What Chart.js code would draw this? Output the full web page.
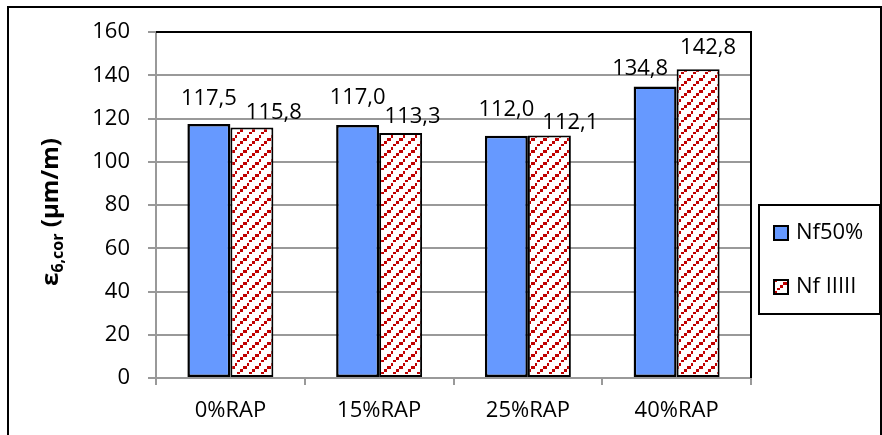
<!DOCTYPE html>
<html>
<head>
<meta charset="utf-8">
<script src="https://cdn.jsdelivr.net/npm/chart.js@4.4.1/dist/chart.umd.min.js"></script>
<style>
  body { margin: 0; background: #fff; }
  #wrap { width: 882px; height: 435px; }
</style>
</head>
<body>
<div id="wrap"><canvas id="rapChart" width="882" height="435"></canvas></div>
<script>
// data
const categories = ['0%RAP', '15%RAP', '25%RAP', '40%RAP']
const nf50Values = [117.5, 117.0, 112.0, 134.8]
const nfIIIIIValues = [115.8, 113.3, 112.1, 142.8]
const seriesNames = ['Nf50%', 'Nf IIIII']
const yTicks = [0, 20, 40, 60, 80, 100, 120, 140, 160]

const FONT = "'Open Sans', 'Noto Sans', sans-serif"

// red dashed diagonal hatch like the excel pattern fill
function makeHatch() {
    let c = document.createElement('canvas')
    c.width = 12; c.height = 12
    let g = c.getContext('2d')
    g.fillStyle = '#ffffff'
    g.fillRect(0, 0, 12, 12)
    g.fillStyle = '#c00000'
    // staircase going up to the right, with a small gap once per tile
    g.fillRect(0, 9, 3, 3)
    g.fillRect(3, 6, 4, 3)
    g.fillRect(7, 3, 2, 3)
    g.fillRect(9, 0, 3, 2)
    return g.createPattern(c, 'repeat')
}
const hatch = makeHatch()

// label nudges (excel labels were dragged a bit by hand)
const labelShift = [
    [[0, 25], [0, 27], [0, 26], [-15, 18]],
    [[22, 15], [12, 16], [21, 13], [10, 21]]
]

function fmt(v) {
    return v.toFixed(1).replace('.', ',')
}

const decorPlugin = {
    id: 'decor',
    beforeDraw(chart) {
        let ctx = chart.ctx
        ctx.save()
        ctx.fillStyle = '#fff'
        ctx.fillRect(0, 0, chart.width, chart.height)
        ctx.restore()
    },
    afterDraw(chart) {
        let ctx = chart.ctx
        let a = chart.chartArea
        ctx.save()
        // black frame on top and right of plot
        ctx.strokeStyle = '#000'
        ctx.lineWidth = 2
        ctx.beginPath()
        ctx.moveTo(a.left, a.top)
        ctx.lineTo(a.right, a.top)
        ctx.lineTo(a.right, a.bottom)
        ctx.stroke()

        // outer chart border
        ctx.lineWidth = 2
        ctx.strokeRect(8, 7, 873, 440)

        // data labels
        ctx.fillStyle = '#000'
        ctx.font = '22px ' + FONT
        ctx.textAlign = 'center'
        ctx.textBaseline = 'middle'
        chart.data.datasets.forEach(function (ds, di) {
            let meta = chart.getDatasetMeta(di)
            meta.data.forEach(function (bar, i) {
                let s = labelShift[di][i]
                ctx.fillText(fmt(ds.data[i]), bar.x + s[0], bar.y - s[1])
            })
        })

        // y axis title with subscript
        ctx.translate(50, 212)
        ctx.rotate(-Math.PI / 2)
        let big = 'bold 24px ' + FONT
        let small = 'bold 16px ' + FONT
        let p1 = 'ε', p2 = '6,cor', p3 = ' (µm/m)'
        ctx.font = big
        let w1 = ctx.measureText(p1).width
        let w3 = ctx.measureText(p3).width
        ctx.font = small
        let w2 = ctx.measureText(p2).width
        let x = -(w1 + w2 + w3) / 2
        ctx.textAlign = 'left'
        ctx.textBaseline = 'alphabetic'
        ctx.font = big
        ctx.fillText(p1, x, 8)
        ctx.font = small
        ctx.fillText(p2, x + w1, 13)
        ctx.font = big
        ctx.fillText(p3, x + w1 + w2, 8)
        ctx.setTransform(1, 0, 0, 1, 0, 0)

        // legend
        ctx.strokeStyle = '#000'
        ctx.lineWidth = 2
        ctx.strokeRect(759, 205, 121, 109)
        let rows = [233, 287]
        chart.data.datasets.forEach(function (ds, di) {
            let y = rows[di]
            ctx.fillStyle = ds.backgroundColor
            ctx.fillRect(774, y - 7, 14, 14)
            ctx.lineWidth = 2
            ctx.strokeRect(774, y - 7, 14, 14)
            ctx.fillStyle = '#000'
            ctx.font = '22px ' + FONT
            ctx.textAlign = 'left'
            ctx.textBaseline = 'middle'
            ctx.fillText(ds.label, 796, y)
        })
        ctx.restore()
    }
}

var rapChart = new Chart(document.getElementById('rapChart'), {
    type: 'bar',
    data: {
        labels: categories,
        datasets: [{
            label: seriesNames[0],
            data: nf50Values,
            backgroundColor: '#6699ff',
            borderColor: '#000',
            borderWidth: 2.5,
            borderSkipped: false
        }, {
            label: seriesNames[1],
            data: nfIIIIIValues,
            backgroundColor: hatch,
            borderColor: '#000',
            borderWidth: 2,
            borderSkipped: false
        }]
    },
    options: {
        responsive: false,
        animation: false,
        events: [],
        layout: { padding: { left: 0, top: 32, right: 131, bottom: 0 } },
        datasets: { bar: { categoryPercentage: 0.578, barPercentage: 1.0 } },
        plugins: { legend: { display: false }, tooltip: { enabled: false } },
        scales: {
            x: {
                offset: true,
                grid: { display: true, drawOnChartArea: false, offset: true, tickLength: 7, color: '#999', lineWidth: 2 },
                border: { color: '#999', width: 2 },
                ticks: { color: '#000', font: { family: FONT, size: 22 }, padding: 13 },
                afterFit: function (s) { s.height = 57 }
            },
            y: {
                min: 0,
                max: 160,
                afterBuildTicks: function (s) { s.ticks = yTicks.map(function (v) { return { value: v } }) },
                grid: { color: '#999', lineWidth: 2, tickLength: 8, tickColor: '#999' },
                border: { color: '#999', width: 2 },
                ticks: { color: '#000', font: { family: FONT, size: 22 }, padding: 18 },
                afterFit: function (s) { s.width = 156 }
            }
        }
    },
    plugins: [decorPlugin]
})
</script>
</body>
</html>
